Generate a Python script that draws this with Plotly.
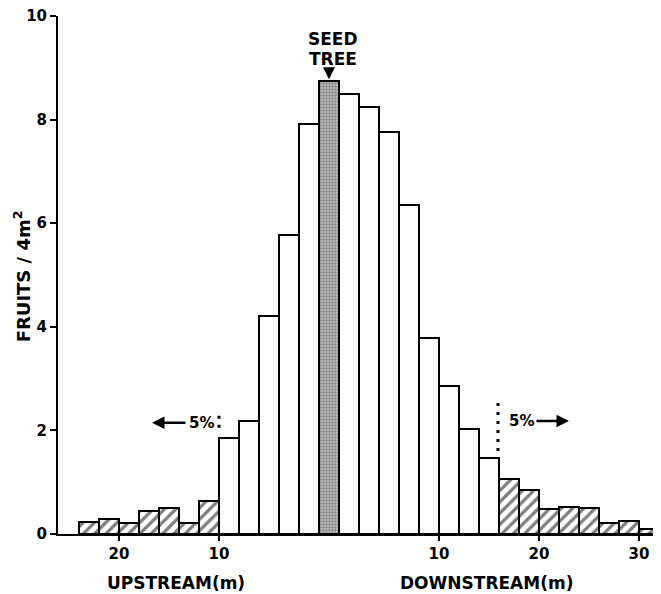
import plotly.graph_objects as go

# Fruits per 4 m2 in 2 m bins, listed from the seed tree outwards
upstream_dist = [1, 3, 5, 7, 9, 11, 13, 15, 17, 19, 21, 23]
upstream_fruits = [7.92, 5.78, 4.2, 2.18, 1.85, 0.63, 0.22, 0.51, 0.45, 0.21, 0.29, 0.24]

downstream_dist = [1, 3, 5, 7, 9, 11, 13, 15, 17, 19, 21, 23, 25, 27, 29, 31]
downstream_fruits = [8.5, 8.25, 7.76, 6.36, 3.78, 2.86, 2.02, 1.47,
                     1.07, 0.84, 0.48, 0.53, 0.50, 0.22, 0.25, 0.09]

seed_tree_fruits = 8.75

# beyond these distances lies the outer 5% of the fruits (hatched bars)
upstream_cut = 10
downstream_cut = 16

tick_dist = [20, 10, 10, 20, 30]
tick_side = [-1, -1, 1, 1, 1]

FONT = "DejaVu Sans"

# the seed tree occupies [-1, 1]; distances are counted from its edges
up_x = [-(1 + d) for d in upstream_dist]
down_x = [1 + d for d in downstream_dist]

near_x, near_y, tail_x, tail_y = [], [], [], []
for x, d, f in zip(up_x, upstream_dist, upstream_fruits):
    (tail_x if d > upstream_cut else near_x).append(x)
    (tail_y if d > upstream_cut else near_y).append(f)
for x, d, f in zip(down_x, downstream_dist, downstream_fruits):
    (tail_x if d > downstream_cut else near_x).append(x)
    (tail_y if d > downstream_cut else near_y).append(f)

outline = dict(color="black", width=2)

fig = go.Figure()
fig.add_trace(go.Bar(x=near_x, y=near_y, width=2,
                     marker=dict(color="white", line=outline)))
fig.add_trace(go.Bar(x=tail_x, y=tail_y, width=2,
                     marker=dict(color="white", line=outline,
                                 pattern=dict(shape="/", fgcolor="black", bgcolor="white",
                                              size=8, solidity=0.4))))
fig.add_trace(go.Bar(x=[0], y=[seed_tree_fruits], width=2,
                     marker=dict(color="#a0a0a0", line=outline,
                                 pattern=dict(shape=".", fgcolor="#444", bgcolor="#c4c4c4",
                                              size=3, solidity=0.5))))

# dotted 5% limits
fig.add_shape(type="line", x0=-11, x1=-11, y0=2.05, y1=2.4,
              line=dict(color="black", width=3, dash="3px,6px"))
fig.add_shape(type="line", x0=16.9, x1=16.9, y0=1.6, y1=2.6,
              line=dict(color="black", width=3, dash="3px,6px"))

bold = dict(family=FONT, size=15, color="black", weight="bold")
big = dict(family=FONT, size=17, color="black", weight="bold")

fig.add_annotation(x=-12.8, y=2.15, text="5%", showarrow=False, font=bold)
fig.add_annotation(x=-17.7, y=2.15, ax=-14.2, ay=2.15, axref="x", ayref="y",
                   text="", showarrow=True, arrowhead=2, arrowsize=1, arrowwidth=2.5,
                   arrowcolor="black")
fig.add_annotation(x=19.2, y=2.18, text="5%", showarrow=False, font=bold)
fig.add_annotation(x=24.0, y=2.18, ax=20.6, ay=2.18, axref="x", ayref="y",
                   text="", showarrow=True, arrowhead=2, arrowsize=1, arrowwidth=2.5,
                   arrowcolor="black")

# seed tree label and arrow
fig.add_annotation(x=0.4, y=9.55, text="SEED", showarrow=False, font=big)
fig.add_annotation(x=0.4, y=9.17, text="TREE", showarrow=False, font=big)
fig.add_annotation(x=0, y=8.78, ax=0, ay=9.0, axref="x", ayref="y",
                   text="", showarrow=True, arrowhead=2, arrowsize=0.8, arrowwidth=3,
                   arrowcolor="black")

# axis titles
fig.add_annotation(x=-15.3, y=-0.095, xref="x", yref="paper", yanchor="middle",
                   text="UPSTREAM(m)", showarrow=False, font=big)
fig.add_annotation(x=15.7, y=-0.095, xref="x", yref="paper", yanchor="middle",
                   text="DOWNSTREAM(m)", showarrow=False, font=big)
fig.add_annotation(x=-0.06, y=0.497, xref="paper", yref="paper", textangle=-90,
                   xanchor="center", yanchor="middle",
                   text="FRUITS / 4m<sup>2</sup>", showarrow=False,
                   font=dict(family=FONT, size=18, color="black", weight="bold"))

# the page body adds an 8px margin, so the figure is shrunk by that much
fig.update_layout(
    width=653, height=586,
    margin=dict(l=50, r=0, t=8, b=60),
    plot_bgcolor="white", paper_bgcolor="white",
    showlegend=False, bargap=0,
    xaxis=dict(range=[-27.1, 33.2], showgrid=False, zeroline=False,
               showline=True, linecolor="black", linewidth=2,
               ticks="outside", ticklen=5, tickwidth=2, tickcolor="black",
               tickvals=[s * (d + 1) for s, d in zip(tick_side, tick_dist)],
               ticktext=[str(d) for d in tick_dist], tickfont=bold),
    yaxis=dict(range=[0, 10], showgrid=False, zeroline=False,
               showline=True, linecolor="black", linewidth=2,
               ticks="outside", ticklen=6, tickwidth=2, tickcolor="black",
               tickvals=[0, 2, 4, 6, 8, 10], tickfont=bold,
               ticklabeloverflow="allow"),
)

fig.write_html("out.html")
